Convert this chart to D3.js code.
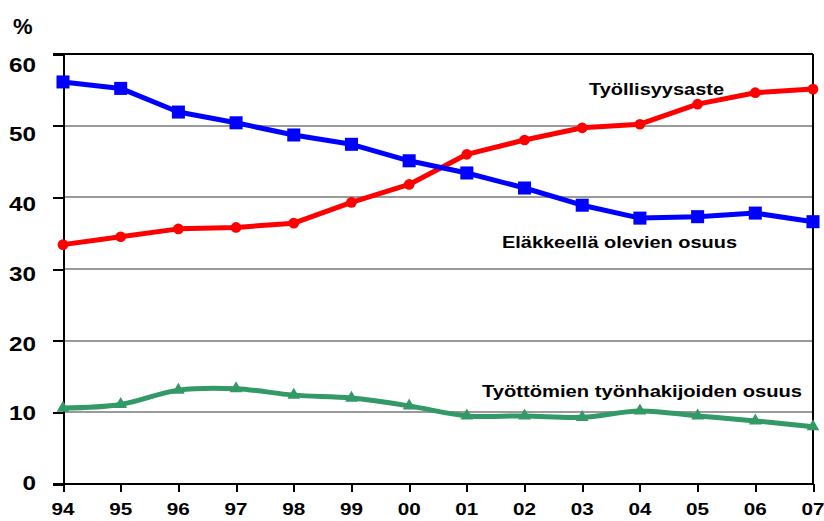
<!DOCTYPE html>
<html>
<head>
<meta charset="utf-8">
<script src="https://cdn.jsdelivr.net/npm/d3@7"></script>
<style>
  html, body { margin: 0; padding: 0; background: #fff; }
  svg { display: block; }
  text { font-family: "Liberation Sans", Arial, sans-serif; font-weight: bold; fill: #000; }
</style>
</head>
<body>
<svg id="chart" width="824" height="521"></svg>
<script>
// Years on the x axis (two-digit labels)
const years = ["94","95","96","97","98","99","00","01","02","03","04","05","06","07"];
const yTicks = [0, 10, 20, 30, 40, 50, 60];

// Employment rate, %
const tyollisyysaste = [33.4, 34.5, 35.6, 35.8, 36.4, 39.3, 41.8, 46.0, 48.0, 49.7, 50.2, 53.0, 54.6, 55.1];
// Share of pensioners, %
const elakkeella = [56.1, 55.2, 51.9, 50.4, 48.7, 47.4, 45.1, 43.4, 41.3, 38.9, 37.1, 37.3, 37.8, 36.6];
// Share of unemployed job seekers, %
const tyottomat = [10.6, 11.1, 13.1, 13.3, 12.4, 12.0, 10.9, 9.5, 9.5, 9.3, 10.2, 9.5, 8.8, 8.0];

const seriesLabels = ["Työllisyysaste", "Eläkkeellä olevien osuus", "Työttömien työnhakijoiden osuus"];

const svg = d3.select("#chart");
const plotLeft = 63, plotRight = 813, plotTop = 54, plotBottom = 484;

const x = d3.scalePoint().domain(years).range([plotLeft, plotRight]);
const y = d3.scaleLinear().domain([0, 60]).range([plotBottom, plotTop]);
// tick labels sit on their own slightly tighter spacing
const yLab = d3.scaleLinear().domain([0, 60]).range([482.5, 64]);

// horizontal gridlines
svg.append("g").selectAll("line").data(yTicks.filter(v => v > 0 && v < 60)).join("line")
  .attr("x1", plotLeft).attr("x2", plotRight)
  .attr("y1", d => y(d)).attr("y2", d => y(d))
  .attr("stroke", "#9a9a9a").attr("stroke-width", 2)
  .attr("shape-rendering", "crispEdges");

// frame: top and right border
svg.append("line").attr("x1", plotLeft - 10).attr("x2", plotRight).attr("y1", y(60)).attr("y2", y(60))
  .attr("stroke", "#000").attr("stroke-width", 2).attr("shape-rendering", "crispEdges");
svg.append("line").attr("x1", plotRight).attr("x2", plotRight).attr("y1", y(60)).attr("y2", y(0))
  .attr("stroke", "#000").attr("stroke-width", 2).attr("shape-rendering", "crispEdges");

// y axis
const yAxis = svg.append("g").attr("transform", `translate(${plotLeft},0)`)
  .call(d3.axisLeft(y).tickValues(yTicks).tickSize(10).tickFormat(""));
yAxis.select(".domain").attr("stroke", "#000").attr("stroke-width", 2);
yAxis.selectAll(".tick line").attr("stroke", "#000").attr("stroke-width", 2);
yAxis.selectAll("path, line").attr("shape-rendering", "crispEdges");

svg.append("g").selectAll("text").data(yTicks).join("text")
  .attr("x", 36).attr("y", d => yLab(d)).attr("dy", "0.36em")
  .attr("text-anchor", "end").attr("font-size", 21)
  .attr("textLength", d => String(d).length * 13.5).attr("lengthAdjust", "spacingAndGlyphs")
  .text(d => d);

svg.append("text").attr("x", 13).attr("y", 34).attr("font-size", 22).text("%");

// x axis
const xAxis = svg.append("g").attr("transform", `translate(0,${plotBottom})`)
  .call(d3.axisBottom(x).tickSize(8).tickSizeOuter(0).tickFormat(""));
xAxis.select(".domain").attr("d", `M${plotLeft - 10},0H${plotRight}`).attr("stroke", "#000").attr("stroke-width", 2);
xAxis.selectAll(".tick line").attr("stroke", "#000").attr("stroke-width", 2);
xAxis.selectAll("path, line").attr("shape-rendering", "crispEdges");

svg.append("g").selectAll("text").data(years).join("text")
  .attr("x", d => x(d)).attr("y", 515)
  .attr("text-anchor", "middle").attr("font-size", 17)
  .attr("textLength", 23).attr("lengthAdjust", "spacingAndGlyphs")
  .text(d => d);

// series
const lineStraight = d3.line().x((d, i) => x(years[i])).y(d => y(d));
const lineSmooth = d3.line().x((d, i) => x(years[i])).y(d => y(d)).curve(d3.curveCatmullRom.alpha(0.5));

function drawSeries(values, color, gen, symbolType, size) {
  const g = svg.append("g");
  g.append("path").datum(values).attr("d", gen)
    .attr("fill", "none").attr("stroke", color).attr("stroke-width", 5)
    .attr("stroke-linejoin", "round");
  g.selectAll("path.m").data(values).join("path").attr("class", "m")
    .attr("transform", (d, i) => `translate(${x(years[i])},${y(d)})`)
    .attr("d", d3.symbol().type(symbolType).size(size))
    .attr("fill", color);
}

drawSeries(tyottomat, "#339966", lineSmooth, d3.symbolTriangle, 70);
drawSeries(tyollisyysaste, "#ff0000", lineStraight, d3.symbolCircle, 90);
drawSeries(elakkeella, "#0000ff", lineStraight, d3.symbolSquare, 170);

// series labels
const labels = [
  { t: seriesLabels[0], x: 589, y: 95, w: 135 },
  { t: seriesLabels[1], x: 502, y: 248, w: 235 },
  { t: seriesLabels[2], x: 482, y: 397, w: 320 }
];
svg.append("g").selectAll("text").data(labels).join("text")
  .attr("x", d => d.x).attr("y", d => d.y)
  .attr("font-size", 16)
  .attr("textLength", d => d.w).attr("lengthAdjust", "spacingAndGlyphs")
  .text(d => d.t);
</script>
</body>
</html>
